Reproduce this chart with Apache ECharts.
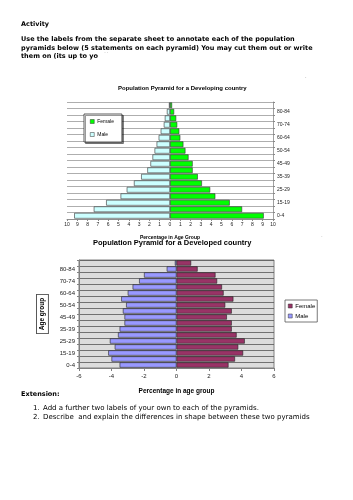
<!DOCTYPE html>
<html><head><meta charset="utf-8">
<script src="https://cdn.jsdelivr.net/npm/echarts@6/dist/echarts.min.js"></script>
<style>html,body{margin:0;padding:0;background:#fff}#c{width:353px;height:500px}</style>
</head><body><div id="c"></div>
<script>
const ageGroups = ['0-4','5-9','10-14','15-19','20-24','25-29','30-34','35-39','40-44','45-49','50-54','55-59','60-64','65-69','70-74','75-79','80-84','85+'];
const ageTickLabels = ['0-4','','15-19','','25-29','','35-39','','45-49','','50-54','','60-64','','70-74','','80-84',''];
const devingFemale = [9.1, 7.0, 5.8, 4.4, 3.9, 3.1, 2.7, 2.2, 2.2, 1.8, 1.5, 1.3, 1.0, 0.9, 0.7, 0.6, 0.4, 0.2];
const devingMale   = [9.3, 7.4, 6.2, 4.8, 4.2, 3.5, 2.8, 2.2, 1.9, 1.7, 1.5, 1.3, 1.1, 0.9, 0.6, 0.5, 0.3, 0.1];
const devedFemale  = [3.2, 3.6, 4.1, 3.8, 4.2, 3.7, 3.4, 3.4, 3.1, 3.4, 3.0, 3.5, 2.9, 2.8, 2.5, 2.4, 1.3, 0.9];
const devedMale    = [3.5, 4.0, 4.2, 3.8, 4.1, 3.6, 3.5, 3.2, 3.2, 3.3, 3.1, 3.4, 3.0, 2.7, 2.3, 2.0, 0.6, 0.1];

const chart = echarts.init(document.getElementById('c'), null, {renderer:'canvas'});
const sans = 'Liberation Sans, Arial, sans-serif';
const dv = 'DejaVu Sans, Verdana, sans-serif';
function txt(x, y, s, size, bold, color){
  return {type:'text', left:x, top:y - size*0.6, style:{text:s, font:(bold?'bold ':'') + size + 'px ' + dv, fill: color || '#000'}};
}
chart.setOption({
  animation:false,
  title:[
    {text:'Population Pyramid for a Developing country', top:85, textStyle:{fontFamily:sans, fontSize:6, fontWeight:'bold', color:'#000'}, padding:0, left:118},
    {text:'Population Pyramid for a Developed country', top:238.5, left:93, padding:0, textStyle:{fontFamily:sans, fontSize:7.5, fontWeight:'bold', color:'#000'}}
  ],
  legend:[
    {orient:'vertical', left:84, top:114, padding:[5,8,5,6], itemGap:8, itemWidth:4, itemHeight:4,
     borderColor:'#333', borderWidth:0.8, backgroundColor:'#fff', shadowColor:'rgba(0,0,0,0.5)', shadowOffsetX:1.5, shadowOffsetY:1.5,
     textStyle:{fontSize:5, fontFamily:sans, color:'#000', padding:[0,0,0,-2]}, icon:'rect',
     data:[{name:'Female', itemStyle:{color:'#00ff00', borderColor:'#333', borderWidth:0.5}},
           {name:'Male', itemStyle:{color:'#ccffff', borderColor:'#333', borderWidth:0.5}}]},
    {orient:'vertical', left:285, top:300, padding:[3,2,3,3], itemGap:4, itemWidth:4, itemHeight:4,
     borderColor:'#555', borderWidth:0.8, backgroundColor:'#fff',
     textStyle:{fontSize:6, fontFamily:sans, color:'#000', padding:[0,0,0,-2]}, icon:'rect',
     data:[{name:'Female', itemStyle:{color:'#993366', borderColor:'#333', borderWidth:0.5}},
           {name:'Male', itemStyle:{color:'#9999ff', borderColor:'#333', borderWidth:0.5}}]}
  ],
  grid:[
    {left:67, top:102, width:206, height:117, show:false},
    {left:79, top:260, width:195, height:108, show:true, backgroundColor:'#dcdcdc', borderColor:'#808080', borderWidth:1}
  ],
  xAxis:[
    {gridIndex:0, type:'value', min:-10, max:10, interval:1,
     axisLine:{show:true, lineStyle:{color:'#888', width:0.8}}, axisTick:{show:true, length:2, lineStyle:{color:'#888'}},
     axisLabel:{fontSize:5, fontFamily:sans, color:'#222', margin:3, formatter:v=>Math.abs(v)},
     splitLine:{show:false},
     name:'Percentage in Age Group', nameLocation:'middle', nameGap:16, nameTextStyle:{fontSize:5, fontWeight:'bold', fontFamily:sans, color:'#000'}},
    {gridIndex:1, type:'value', min:-6, max:6, interval:2,
     axisLine:{show:true, lineStyle:{color:'#808080'}}, axisTick:{show:true, length:3, lineStyle:{color:'#808080'}},
     axisLabel:{fontSize:6, fontFamily:sans, color:'#222', margin:5},
     splitLine:{show:false},
     name:'Percentage in age group', nameLocation:'middle', nameGap:20, nameTextStyle:{fontSize:6.5, fontWeight:'bold', fontFamily:sans, color:'#000'}}
  ],
  yAxis:[
    {gridIndex:0, type:'category', data:ageGroups, position:'right',
     axisLine:{show:true, onZero:false, lineStyle:{color:'#888', width:0.8}}, axisTick:{show:true, length:2, interval:0, lineStyle:{color:'#888'}},
     axisLabel:{interval:0, fontSize:5, fontFamily:sans, color:'#222', margin:4, formatter:(v,i)=>ageTickLabels[i]},
     splitLine:{show:true, interval:0, lineStyle:{color:'#999', width:0.8}}},
    {gridIndex:1, type:'category', data:ageGroups, position:'left',
     axisLine:{show:true, onZero:false, lineStyle:{color:'#808080'}}, axisTick:{show:true, length:2, interval:0, lineStyle:{color:'#808080'}},
     axisLabel:{interval:0, fontSize:6, fontFamily:sans, color:'#222', margin:4, formatter:(v,i)=>ageTickLabels[i]},
     splitLine:{show:true, interval:0, lineStyle:{color:'#555', width:0.8}},
     name:'Age group', nameLocation:'middle', nameRotate:90, nameGap:30,
     nameTextStyle:{fontSize:6.5, fontWeight:'bold', fontFamily:sans, color:'#000', borderColor:'#333', borderWidth:0.8, padding:[2,3,2,3], backgroundColor:'#fff'}}
  ],
  series:[
    {name:'Female', type:'bar', xAxisIndex:0, yAxisIndex:0, data:devingFemale, barGap:'-100%', barCategoryGap:'12%',
     itemStyle:{color:'#00ff00', borderColor:'#333', borderWidth:0.6}},
    {name:'Male', type:'bar', xAxisIndex:0, yAxisIndex:0, data:devingMale.map(v=>-v), barGap:'-100%', barCategoryGap:'12%',
     itemStyle:{color:'#ccffff', borderColor:'#333', borderWidth:0.6}},
    {name:'Female', type:'bar', xAxisIndex:1, yAxisIndex:1, data:devedFemale, barGap:'-100%', barCategoryGap:'12%',
     itemStyle:{color:'#993366', borderColor:'#222', borderWidth:0.6}},
    {name:'Male', type:'bar', xAxisIndex:1, yAxisIndex:1, data:devedMale.map(v=>-v), barGap:'-100%', barCategoryGap:'12%',
     itemStyle:{color:'#9999ff', borderColor:'#222', borderWidth:0.6}}
  ],
  graphic:[
    txt(21, 25, 'Activity', 6.5, true),
    txt(21, 39.7, 'Use the labels from the separate sheet to annotate each of the population', 6.5, true),
    txt(21, 48.3, 'pyramids below (5 statements on each pyramid) You may cut them out or write', 6.5, true),
    txt(21, 57, 'them on (its up to yo', 6.5, true),
    txt(104, 55, '``', 5, false, '#aaa'),
    txt(305, 77, '.', 5, false, '#666'),
    txt(321, 237, '-', 4, false, '#888'),
    txt(21, 394.7, 'Extension:', 6.5, true),
    txt(33, 409.3, '1.', 7, false),
    txt(43, 409.3, 'Add a further two labels of your own to each of the pyramids.', 7, false),
    txt(33, 417.7, '2.', 7, false),
    txt(43, 417.7, 'Describe  and explain the differences in shape between these two pyramids', 7, false)
  ]
});
</script></body></html>
